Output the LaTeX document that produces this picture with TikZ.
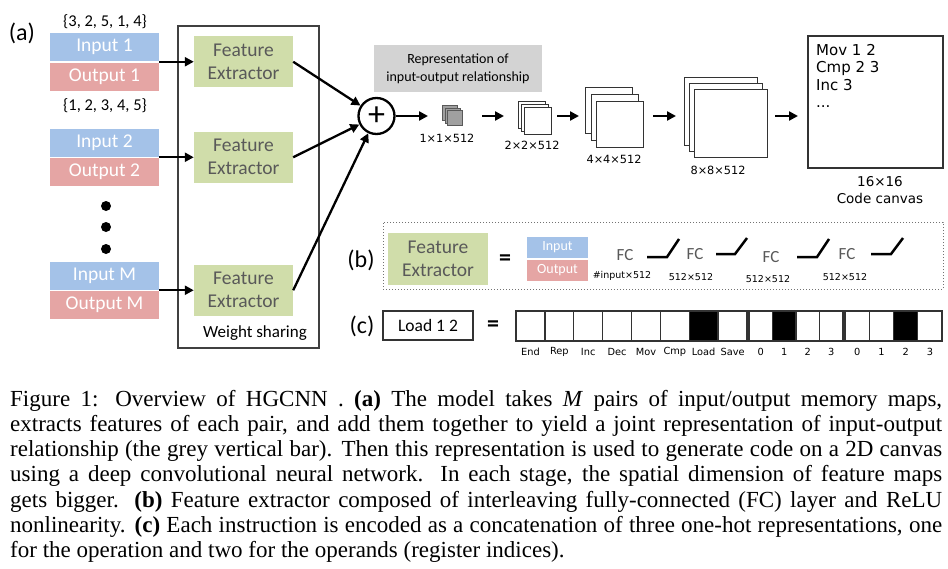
\documentclass[tikz,border=0pt]{standalone}
\usepackage{fontspec}
\setmainfont{Liberation Serif}
\newfontfamily\calfont{Carlito}
\newfontfamily\dvfont{DejaVu Sans}
\usetikzlibrary{arrows.meta}
\newcommand\fsz[2]{\fontsize{#1}{#2}\selectfont}
\definecolor{inblue}{RGB}{164,194,232}
\definecolor{outpink}{RGB}{229,165,164}
\definecolor{fegreen}{RGB}{208,221,170}
\definecolor{fetext}{RGB}{89,89,89}
\definecolor{repgrey}{RGB}{211,211,211}
\definecolor{cubegrey}{RGB}{160,160,160}
\tikzset{
  lab/.style={inner sep=0, font=\calfont\fsz{24}{28}},
  setl/.style={inner sep=0, font=\calfont\fsz{16.5}{20}},
  io/.style={minimum width=109pt, minimum height=28pt, inner sep=0, text=white, font=\calfont\fsz{19.5}{22}},
  inbox/.style={io, fill=inblue},
  outbox/.style={io, fill=outpink},
  fe/.style={fill=fegreen, text=fetext, minimum width=99pt, minimum height=51pt, align=center, inner sep=0, font=\calfont\fsz{19.5}{23}},
  dotc/.style={circle, fill=black, minimum size=10pt, inner sep=0},
  wsbox/.style={draw=black!75, line width=1.2pt, minimum width=141pt, minimum height=322pt, inner sep=0},
  wslab/.style={inner sep=0, font=\calfont\fsz{17}{20}},
  arr/.style={line width=2.3pt, -{Triangle[length=9pt,width=9pt]}},
  rep/.style={fill=repgrey, minimum width=168pt, minimum height=47pt, align=center, inner sep=0, font=\calfont\fsz{14}{18}},
  sq/.style={draw=black!80, fill=white, line width=1.2pt, inner sep=0, anchor=north west},
  gsq/.style={sq, draw=black!65, fill=cubegrey},
  dim/.style={inner sep=0, font=\dvfont\fsz{11.3}{13}},
  dimb/.style={inner sep=0, font=\dvfont\fsz{13.5}{16}},
  canvas/.style={draw=black!80, line width=1.3pt, minimum width=135pt, minimum height=132pt, inner sep=0},
  code/.style={inner sep=0, anchor=north west, align=left, font=\dvfont\fsz{15}{17.5}},
  dotbox/.style={draw=black!55, line width=1pt, dash pattern=on 1pt off 2pt, minimum width=560pt, minimum height=67pt, inner sep=0},
  eq/.style={inner sep=0, font=\calfont\bfseries\fsz{24}{28}},
  sio/.style={minimum width=61pt, minimum height=21pt, inner sep=0, text=white, font=\calfont\fsz{14}{16}},
  fc/.style={inner sep=0, text=fetext, font=\calfont\fsz{17}{20}},
  relu/.style={line width=2.5pt},
  dsm/.style={inner sep=0, font=\dvfont\fsz{9.5}{11}},
  loadbox/.style={draw=black!80, line width=1.2pt, minimum width=90pt, minimum height=29pt, inner sep=0, font=\calfont\fsz{17.5}{20}},
  cell/.style={draw=black!80, line width=1.4pt, minimum height=30pt, inner sep=0},
  clab/.style={inner sep=0, font=\dvfont\fsz{9.8}{11}},
  capl/.style={anchor=base west, inner sep=0, font=\fsz{23}{25}}
}
\begin{document}
\begin{tikzpicture}[x=1pt,y=-1pt]
\useasboundingbox (0,0) rectangle (948,568);

% ---------- (a) ----------
\node[lab] (la) at (22,33) {(a)};
\node[setl] (s1) at (105,22) {\{3, 2, 5, 1, 4\}};
\node[inbox] (in1) at (104.5,47) {Input 1};
\node[outbox] (out1) at (104.5,76.5) {Output 1};
\node[setl] (s2) at (105,106) {\{1, 2, 3, 4, 5\}};
\node[inbox] (in2) at (104.5,142.5) {Input 2};
\node[outbox] (out2) at (104.5,172) {Output 2};
\node[dotc] (d1) at (106,206) {};
\node[dotc] (d2) at (106,227) {};
\node[dotc] (d3) at (106,249) {};
\node[inbox] (inM) at (104.5,275.5) {Input M};
\node[outbox] (outM) at (104.5,305) {Output M};

\node[wsbox] (ws) at (248.5,187) {};
\node[fe] (fe1) at (243.5,61.75) {Feature\\Extractor};
\node[fe] (fe2) at (243.5,157.25) {Feature\\Extractor};
\node[fe] (fe3) at (243.5,290.25) {Feature\\Extractor};
\node[wslab] (wst) at (255,333) {Weight sharing};

\coordinate (j1) at (159,61.75);
\coordinate (j2) at (159,157.25);
\coordinate (j3) at (159,290.25);
\draw[arr] (j1) -- (fe1.west);
\draw[arr] (j2) -- (fe2.west);
\draw[arr] (j3) -- (fe3.west);

\node[circle, draw, line width=2.3pt, minimum size=36pt, inner sep=0, font=\calfont\fsz{34}{34}] (plus) at (376.5,116) {+};
\draw[arr] (fe1.east) -- (plus);
\draw[arr] (fe2.east) -- (plus);
\draw[arr] (fe3.east) -- (plus);

\node[rep] (rep) at (458,68.5) {Representation of\\input-output relationship};

\coordinate (e1) at (428,116);
\draw[arr] (plus) -- (e1);

% cubes
\node[gsq, minimum width=15pt, minimum height=15pt] (c1a) at (442,105) {};
\node[gsq, minimum width=15pt, minimum height=15pt] (c1b) at (444.5,107.5) {};
\node[gsq, minimum width=15pt, minimum height=15pt] (c1c) at (447,110) {};
\node[dim] (l1) at (447,138) {1×1×512};

\coordinate (b2s) at (482,116);
\coordinate (b2e) at (504,116);
\draw[arr] (b2s) -- (b2e);

\node[sq, minimum width=27pt, minimum height=27pt] (c2a) at (518,101) {};
\node[sq, minimum width=27pt, minimum height=27pt] (c2b) at (521,104) {};
\node[sq, minimum width=27pt, minimum height=27pt] (c2c) at (524,107) {};
\node[dim] (l2) at (532,145) {2×2×512};

\coordinate (b3s) at (557,116);
\coordinate (b3e) at (579,116);
\draw[arr] (b3s) -- (b3e);

\node[sq, minimum width=47pt, minimum height=46pt] (c3a) at (585,87) {};
\node[sq, minimum width=47pt, minimum height=46pt] (c3b) at (590.5,94) {};
\node[sq, minimum width=47pt, minimum height=46pt] (c3c) at (596,101) {};
\node[dim] (l3) at (614,159) {4×4×512};

\coordinate (b4s) at (653,116);
\coordinate (b4e) at (676,116);
\draw[arr] (b4s) -- (b4e);

\node[sq, minimum width=73pt, minimum height=68pt] (c4a) at (684,77) {};
\node[sq, minimum width=73pt, minimum height=68pt] (c4b) at (689,83) {};
\node[sq, minimum width=73pt, minimum height=68pt] (c4c) at (694,89) {};
\node[dim] (l4) at (718,170) {8×8×512};

\coordinate (b5s) at (775,116);
\coordinate (b5e) at (798,116);
\draw[arr] (b5s) -- (b5e);

\node[canvas] (cv) at (875.5,102) {};
\node[code] (code) at (816,44) {Mov 1 2\\Cmp 2 3\\Inc 3\\...};
\node[dimb] (l5) at (880,182) {16×16};
\node[dimb] (l6) at (880,198) {Code canvas};

% ---------- (b) ----------
\node[dotbox] (bb) at (663,255.5) {};
\node[lab] (lb) at (361,260) {(b)};
\node[fe, minimum width=100pt, minimum height=52pt] (feb) at (438,259) {Feature\\Extractor};
\node[eq] (eqb) at (505,260) {=};
\node[sio, fill=inblue] (inb) at (557.5,247.5) {Input};
\node[sio, fill=outpink] (outb) at (557.5,270.5) {Output};
\node[fc] (fc1) at (625,255) {FC};
\node[fc] (fc2) at (695,254) {FC};
\node[fc] (fc3) at (771,257) {FC};
\node[fc] (fc4) at (847,254) {FC};
\draw[relu] (647,257) -- (667,257) -- (679,239);
\draw[relu] (716,254) -- (735,254) -- (747,238);
\draw[relu] (797,257) -- (817,257) -- (829,239);
\draw[relu] (871,254) -- (891,254) -- (903,238);
\node[dsm] (m1) at (622,276) {\#input×512};
\node[dsm] (m2) at (691,277) {512×512};
\node[dsm] (m3) at (768,279) {512×512};
\node[dsm] (m4) at (845,277) {512×512};

% ---------- (c) ----------
\node[lab] (lc) at (362,326) {(c)};
\node[loadbox] (ld) at (428,325.5) {Load 1 2};
\node[eq] (eqc) at (493,326) {=};
\foreach \t/\f [count=\i from 0] in {End/white,Rep/white,Inc/white,Dec/white,Mov/white,Cmp/white,Load/black,Save/white}{
  \node[cell, minimum width=28.875pt, fill=\f] (op\i) at ({530.4375+28.875*\i},326) {};
  \node[clab] (opl\i) at ({530.4375+28.875*\i},352) {\t};
}
\foreach \t/\f [count=\i from 0] in {0/white,1/black,2/white,3/white}{
  \node[cell, minimum width=23.5pt, fill=\f] (ra\i) at ({760.75+23.5*\i},326) {};
  \node[clab] (ral\i) at ({760.75+23.5*\i},352) {\t};
}
\foreach \t/\f [count=\i from 0] in {0/white,1/white,2/black,3/white}{
  \node[cell, minimum width=24.25pt, fill=\f] (rb\i) at ({857.125+24.25*\i},326) {};
  \node[clab] (rbl\i) at ({857.125+24.25*\i},352) {\t};
}

% ---------- caption ----------
\node[capl] (cap1) at (10,406) {\hbox to 932pt{Figure 1:  Overview of HGCNN . \textbf{(a)} The model takes \textit{M} pairs of input/output memory maps,}};
\node[capl] (cap2) at (10,431.3) {\hbox to 932pt{extracts features of each pair, and add them together to yield a joint representation of input-output}};
\node[capl] (cap3) at (10,456.6) {\hbox to 932pt{relationship (the grey vertical bar). Then this representation is used to generate code on a 2D canvas}};
\node[capl] (cap4) at (10,481.9) {\hbox to 932pt{using a deep convolutional neural network.  In each stage, the spatial dimension of feature maps}};
\node[capl] (cap5) at (10,507.2) {\hbox to 932pt{gets bigger.  \textbf{(b)} Feature extractor composed of interleaving fully-connected (FC) layer and ReLU}};
\node[capl] (cap6) at (10,532.5) {\hbox to 932pt{nonlinearity. \textbf{(c)} Each instruction is encoded as a concatenation of three one-hot representations, one}};
\node[capl] (cap7) at (10,557.8) {for the operation and two for the operands (register indices).};
\end{tikzpicture}
\end{document}
